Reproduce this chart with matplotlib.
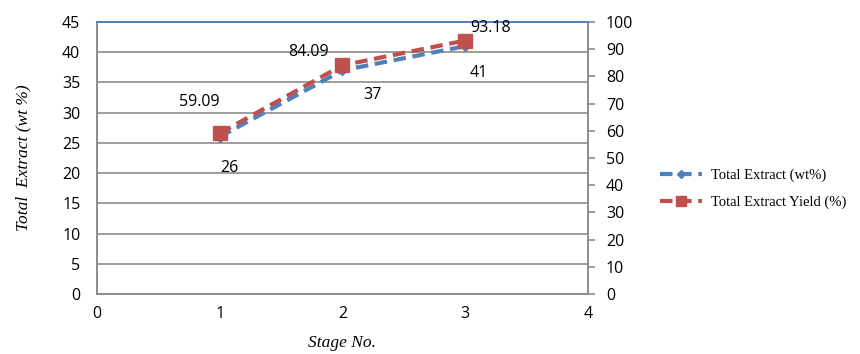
import matplotlib.pyplot as plt

# stage-wise extraction results
stages = [1, 2, 3]
total_extract = [26, 37, 41]          # wt %, left axis
extract_yield = [59.09, 84.09, 93.18]  # %, right axis

blue = "#4F81BD"
red = "#C0504D"
grid_grey = "#8C8C8C"

plt.rcParams["font.family"] = ["Open Sans", "DejaVu Sans"]

fig = plt.figure(figsize=(8.6, 3.54), dpi=100)
ax = fig.add_axes([0.1128, 0.1695, 0.5709, 0.7684])
ax2 = ax.twinx()

ax.set_xlim(0, 4)
ax.set_ylim(0, 45)
ax2.set_ylim(0, 100)
ax.set_xticks(range(0, 5))
ax.set_yticks(range(0, 46, 5))
ax2.set_yticks(range(0, 101, 10))

ax.yaxis.grid(True, color=grid_grey, lw=1.2)
ax.set_axisbelow(True)
for a in (ax, ax2):
    for side in ("left", "right", "bottom"):
        a.spines[side].set_color(grid_grey)
        a.spines[side].set_linewidth(1.2)
    a.spines["top"].set_color(blue)
    a.spines["top"].set_linewidth(1.2)

fs = 11.5
ax.tick_params(axis="both", length=0, labelsize=fs, pad=9)
ax.tick_params(axis="y", pad=12)
ax2.tick_params(axis="y", length=5, width=1.2, color=grid_grey,
                labelsize=fs, pad=8)

l1, = ax.plot(stages, total_extract, color=blue, lw=3, ls=(0, (3, 1.6)),
              marker="D", ms=5.5, label="Total Extract (wt%)", zorder=3)
l2, = ax2.plot(stages, extract_yield, color=red, lw=3, ls=(0, (3, 1.6)),
               marker="s", ms=10, label="Total Extract Yield (%)", zorder=4)

# value labels next to the points
blue_offsets = [(10, -31), (30, -25), (14, -27)]
red_offsets = [(-20, 31), (-34, 13), (25, 13)]
for x, y, (dx, dy) in zip(stages, total_extract, blue_offsets):
    ax.annotate(f"{y:g}", (x, y), xytext=(dx, dy), textcoords="offset pixels",
                ha="center", va="center", fontsize=fs)
for x, y, (dx, dy) in zip(stages, extract_yield, red_offsets):
    ax2.annotate(f"{y:.2f}", (x, y), xytext=(dx, dy), textcoords="offset pixels",
                 ha="center", va="center", fontsize=fs)

serif = ["Liberation Serif", "DejaVu Serif"]
ax.set_xlabel("Stage No.", family=serif, style="italic", fontsize=12.5, labelpad=9)
ax.set_ylabel("Total  Extract (wt %)", family=serif, style="italic",
              fontsize=12.5, labelpad=22)

fig.legend(handles=[l1, l2], loc="center left", bbox_to_anchor=(0.752, 0.466),
           frameon=False, prop={"family": serif, "size": 10.5},
           handlelength=2.9, handletextpad=0.6, labelspacing=0.95,
           markerscale=0.75)

fig.savefig("out.png", dpi=100)
